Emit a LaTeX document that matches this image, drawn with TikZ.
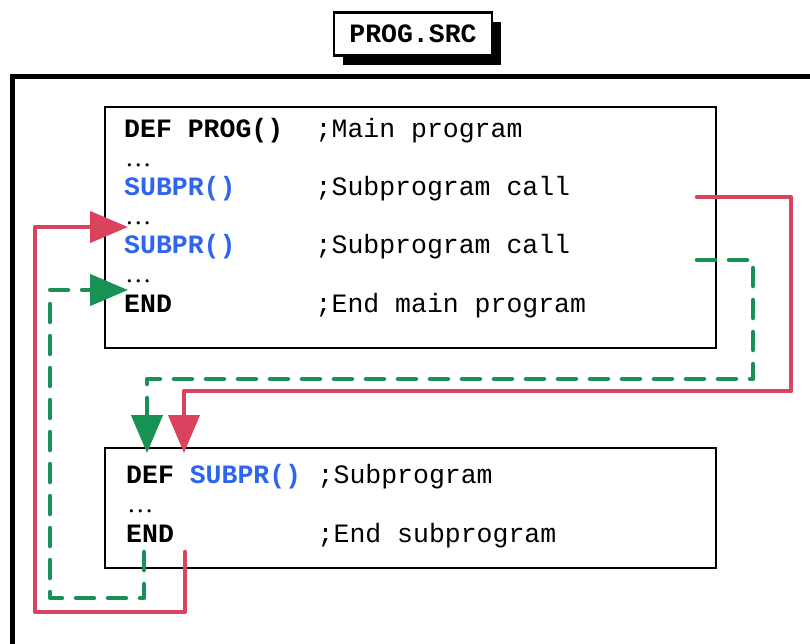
\documentclass[tikz,border=0pt]{standalone}
\usepackage{fontspec}
\setmonofont{Liberation Mono}
\newfontfamily\dotsfont{Liberation Serif}
\usetikzlibrary{arrows.meta,shadows}

\definecolor{callred}{RGB}{217,67,94}
\definecolor{retgreen}{RGB}{24,145,84}
\definecolor{subblue}{RGB}{45,100,240}

\newcommand{\codesize}{\fontsize{26.5}{30}\selectfont}

\begin{document}
\begin{tikzpicture}[
  x=1pt, y=-1pt,
  every node/.style={inner sep=0pt, font=\ttfamily\codesize},
  kw/.style={anchor=base west, font=\ttfamily\bfseries\codesize},
  subname/.style={kw, text=subblue},
  remark/.style={anchor=base west},
  dotsline/.style={anchor=base west, font=\dotsfont\codesize},
  codebox/.style={draw, line width=2pt, anchor=north west},
  filebox/.style={draw, line width=2.5pt, fill=white, font=\ttfamily\bfseries\codesize,
    minimum width=158pt, minimum height=43pt,
    drop shadow={shadow xshift=9pt, shadow yshift=-9pt, fill=black, opacity=1}},
  redcall/.style={callred, line width=4.5pt, line cap=round, line join=round,
    -{Triangle[length=38pt, width=31pt]}},
  greenret/.style={retgreen, line width=4.5pt, line cap=round, line join=round,
    dash pattern=on 18pt off 14pt, -{Triangle[length=38pt, width=31pt]}}
]
\useasboundingbox (0,0) rectangle (810,643);
\clip (0,0) rectangle (810,643);

% File frame and its name
\draw[line width=5pt] (12.5,700) |- (900,76);
\node[filebox] (file) at (413,34) {PROG.SRC};

% Main program
\node[codebox, minimum width=611pt, minimum height=241pt] (mainbox) at (104,106) {};
\node[kw] (maindef) at (124,137) {DEF PROG()};
\node[remark] (maincom) at (315.5,137) {;Main program};
\node[dotsline] (dots1) at (125,166) {…};
\node[subname] (call1) at (124,195) {SUBPR()};
\node[remark] (call1com) at (315.5,195) {;Subprogram call};
\node[dotsline] (dots2) at (125,224) {…};
\node[subname] (call2) at (124,253) {SUBPR()};
\node[remark] (call2com) at (315.5,253) {;Subprogram call};
\node[dotsline] (dots3) at (125,282) {…};
\node[kw] (mainend) at (124,312) {END};
\node[remark] (mainendcom) at (315.5,312) {;End main program};

% Subprogram
\node[codebox, minimum width=611pt, minimum height=120pt] (subbox) at (104,447) {};
\node[kw] (subdef) at (126,483) {DEF};
\node[subname] (subhead) at (189.6,483) {SUBPR()};
\node[remark] (subcom) at (317.5,483) {;Subprogram};
\node[dotsline] (dots4) at (127,512) {…};
\node[kw] (subend) at (126,542) {END};
\node[remark] (subendcom) at (317.5,542) {;End subprogram};

% Jump and return points
\coordinate (redout) at (697,197);
\coordinate (redin) at (184,453);
\coordinate (redret) at (185,552);
\coordinate (redback) at (128,227);
\coordinate (greenout) at (697,260);
\coordinate (greenin) at (147,453);
\coordinate (greenret) at (144,552);
\coordinate (greenback) at (128,290);

% First call and its return
\draw[redcall] (redout) -| (791,391) -| (redin);
\draw[redcall] (redret) |- (35,612) |- (redback);

% Second call and its return
\draw[greenret] (greenout) -| (753,379) -| (greenin);
\draw[greenret] (greenret) |- (50,598) |- (greenback);
\end{tikzpicture}
\end{document}
